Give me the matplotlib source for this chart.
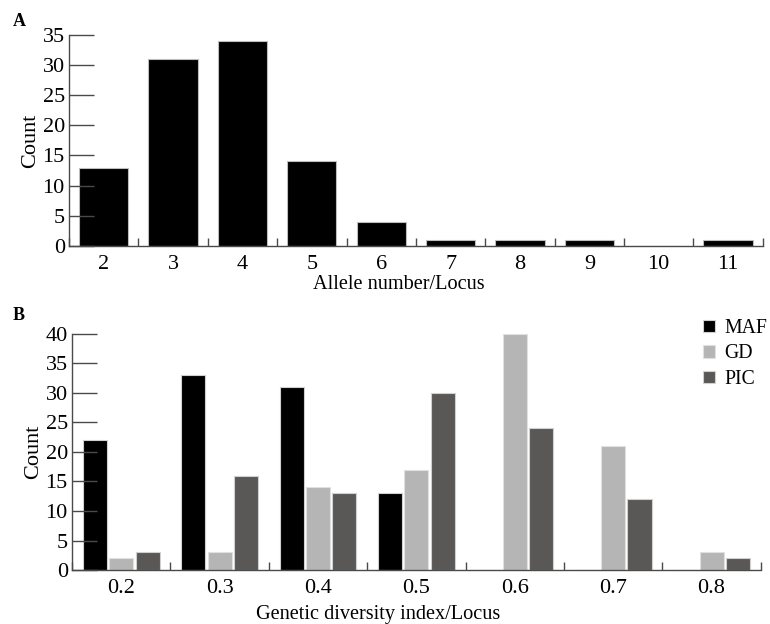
import numpy as np
import matplotlib.pyplot as plt

plt.rcParams['font.family'] = ['Liberation Serif', 'DejaVu Serif']

allele_labels = ['2', '3', '4', '5', '6', '7', '8', '9', '10', '11']
allele_counts = [13, 31, 34, 14, 4, 1, 1, 1, 0, 1]

index_labels = ['0.2', '0.3', '0.4', '0.5', '0.6', '0.7', '0.8']
maf = [22, 33, 31, 13, 0, 0, 0]
gd = [2, 3, 14, 17, 40, 21, 3]
pic = [3, 16, 13, 30, 24, 12, 2]

axis_col = '#4a4a4a'
fs = 16
lfs = 14.6


def style(ax, n, ymax):
    for s in ['top', 'right']:
        ax.spines[s].set_visible(False)
    for s in ['left', 'bottom']:
        ax.spines[s].set_color(axis_col)
        ax.spines[s].set_linewidth(1.0)
    ax.set_xlim(-0.5, n - 0.5)
    ax.set_ylim(0, ymax)
    ax.set_xticks(np.arange(n))
    ax.set_xticks(np.arange(n + 1) - 0.5, minor=True)
    ax.tick_params(axis='x', which='major', length=0, pad=6.5, labelsize=fs)
    ax.tick_params(axis='x', which='minor', direction='in', length=6,
                   color=axis_col, width=1.0)
    ax.tick_params(axis='y', direction='in', length=18, color=axis_col,
                   width=1.0, labelsize=fs, pad=3)


fig = plt.figure(figsize=(7.7, 6.24), dpi=100)

# Panel A
ax1 = fig.add_axes([0.0896, 0.606, 0.901, 0.338])
x = np.arange(len(allele_labels))
ax1.bar(x, allele_counts, width=0.71, color='black', edgecolor='#bdbdbd',
        linewidth=0.8, zorder=1)
style(ax1, len(allele_labels), 35)
ax1.set_xticklabels(allele_labels)
ax1.set_yticks(np.arange(0, 36, 5))
ax1.set_xlabel('Allele number/Locus', fontsize=lfs, va='center')
ax1.xaxis.set_label_coords(0.475, -0.183)
ax1.set_ylabel('Count', fontsize=fs, labelpad=2)
fig.text(0.017, 0.965, 'A', fontsize=13, fontweight='bold', va='center')

# Panel B
ax2 = fig.add_axes([0.0935, 0.0865, 0.8945, 0.3785])
x = np.arange(len(index_labels))
w = 0.245
off = 0.268
ax2.bar(x - off, maf, width=w, color='black', edgecolor='#d0d0d0',
        linewidth=0.8, label='MAF')
ax2.bar(x, gd, width=w, color='#b4b5b4', edgecolor='#e0e0e0',
        linewidth=0.8, label='GD')
ax2.bar(x + off, pic, width=w, color='#595856', edgecolor='#d0d0d0',
        linewidth=0.8, label='PIC')
style(ax2, len(index_labels), 40)
ax2.set_xticklabels(index_labels)
ax2.set_yticks(np.arange(0, 41, 5))
ax2.set_xlabel('Genetic diversity index/Locus', fontsize=lfs, va='center')
ax2.xaxis.set_label_coords(0.444, -0.19)
ax2.set_ylabel('Count', fontsize=fs, labelpad=2)
ax2.legend(loc='upper right', bbox_to_anchor=(1.03, 1.122), frameon=False,
           fontsize=14.2, handlelength=0.6, handleheight=0.6,
           handletextpad=0.5, labelspacing=0.33, borderpad=0.2)
fig.text(0.017, 0.495, 'B', fontsize=13, fontweight='bold', va='center')

fig.savefig('out.png', dpi=100)
